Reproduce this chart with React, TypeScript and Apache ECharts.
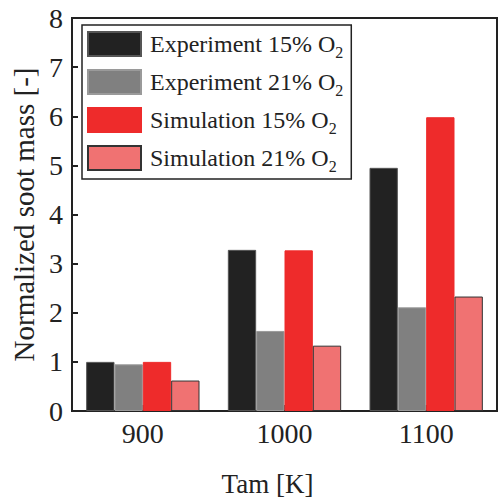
import React, { useEffect, useRef } from "react";
import * as echarts from "echarts";

const categories = ["900", "1000", "1100"];
const exp15 = [1.0, 3.28, 4.95];
const exp21 = [0.95, 1.63, 2.11];
const sim15 = [1.0, 3.27, 5.98];
const sim21 = [0.62, 1.33, 2.33];
const seriesNames = ["Experiment 15% O", "Experiment 21% O", "Simulation 15% O", "Simulation 21% O"];

const FONT = "Liberation Serif";

export default function App() {
  const ref = useRef<HTMLDivElement>(null);
  useEffect(() => {
    if (!ref.current) return;
    const chart = echarts.init(ref.current, null, { renderer: "svg" });
    const colors = ["#222222", "#808080", "#ee2b2b", "#f07272"];
    const borders = ["#555555", "#9a9a9a", "#ee2b2b", "#333333"];
    const data = [exp15, exp21, sim15, sim21];
    chart.setOption({
      animation: false,
      textStyle: { fontFamily: FONT },
      grid: {
        left: 72,
        right: 2,
        top: 18,
        bottom: 85,
        show: true,
        borderColor: "#222",
        borderWidth: 2,
      },
      legend: {
        left: 82,
        top: 25,
        orient: "vertical",
        itemWidth: 53,
        itemHeight: 24,
        itemGap: 9,
        padding: [6, 8, 5, 5],
        borderColor: "#222",
        borderWidth: 1.5,
        icon: "rect",
        data: seriesNames,
        formatter: (name: string) => `{a|${name}}{s|2}`,
        textStyle: {
          color: "#222",
          fontFamily: FONT,
          rich: {
            a: { fontSize: 24, fontFamily: FONT, color: "#222", padding: [0, 0, 0, 4] },
            s: { fontSize: 16, fontFamily: FONT, color: "#222", padding: [16, 0, 0, 0] },
          },
        },
      },
      xAxis: {
        type: "category",
        data: categories,
        name: "Tam [K]",
        nameLocation: "middle",
        nameGap: 59,
        nameTextStyle: { fontSize: 27, color: "#222", fontFamily: FONT, padding: [0, 34, 0, 0] },
        axisLine: { lineStyle: { color: "#222", width: 2 } },
        axisTick: { show: true, alignWithLabel: true, inside: true, length: 6, lineStyle: { color: "#222", width: 2 } },
        axisLabel: { fontSize: 28, color: "#222", fontFamily: FONT, margin: 8 },
      },
      yAxis: {
        type: "value",
        min: 0,
        max: 8,
        interval: 1,
        name: "Normalized soot mass [-]",
        nameLocation: "middle",
        nameGap: 33,
        nameTextStyle: { fontSize: 29, color: "#222", fontFamily: FONT },
        axisLine: { show: true, lineStyle: { color: "#222", width: 2 } },
        axisTick: { show: true, inside: true, length: 6, lineStyle: { color: "#222", width: 2 } },
        axisLabel: { fontSize: 28, color: "#222", fontFamily: FONT, margin: 9 },
        splitLine: { show: false },
      },
      series: seriesNames.map((n, i) => ({
        name: n,
        type: "bar",
        data: data[i],
        barGap: "0%",
        barCategoryGap: "20%",
        itemStyle: { color: colors[i], borderColor: borders[i], borderWidth: 1 },
      })),
    });
    return () => chart.dispose();
  }, []);
  return <div ref={ref} style={{ width: 499, height: 502, position: "absolute", left: 0, top: 0 }} />;
}
